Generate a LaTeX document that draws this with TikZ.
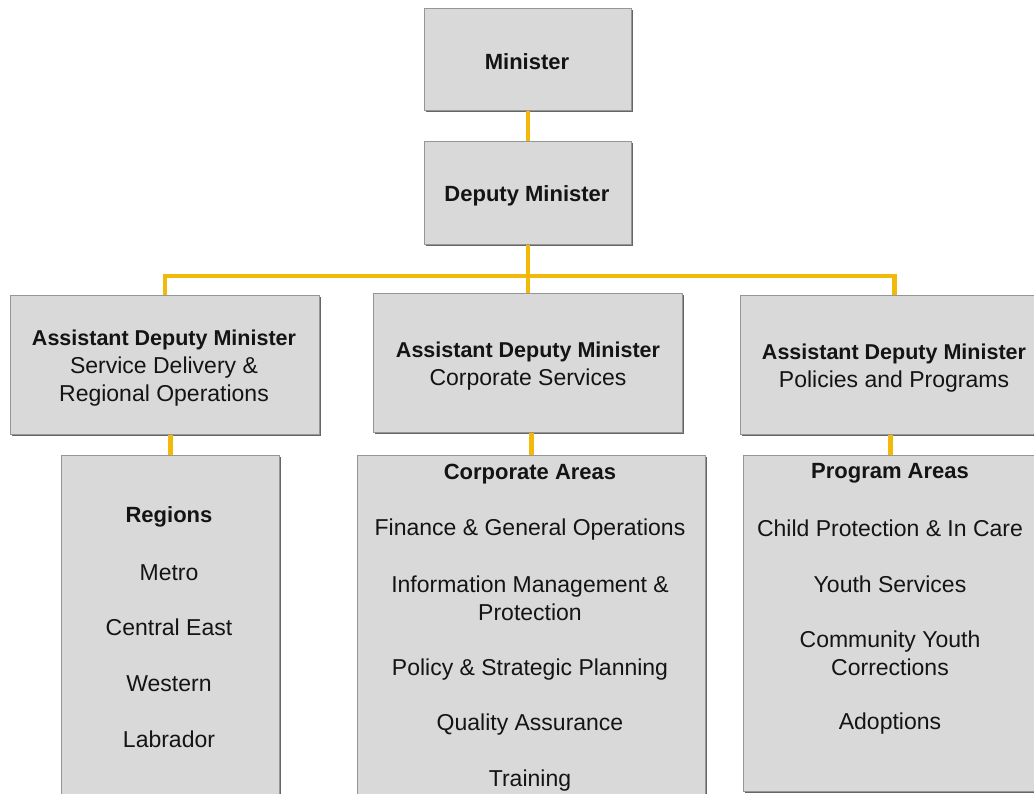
\documentclass[tikz,border=0pt]{standalone}
\usepackage{fontspec}
\setmainfont{Liberation Sans}
\usetikzlibrary{shadows}
\definecolor{boxfill}{RGB}{217,217,217}
\definecolor{boxedge}{RGB}{150,150,150}
\definecolor{gold}{RGB}{242,184,10}
\definecolor{ink}{RGB}{20,20,20}
\begin{document}
\begin{tikzpicture}[x=1pt,y=-1pt,
  box/.style={rectangle, fill=boxfill, draw=boxedge, line width=0.8pt, inner sep=0pt, anchor=north west,
    drop shadow={shadow xshift=1.2pt, shadow yshift=-1.6pt, fill=black!60, opacity=1}},
  link/.style={draw=gold, line width=4.5pt},
  bt/.style={font=\fontsize{22}{26}\selectfont\bfseries, text=ink, inner sep=0pt, align=center, yshift=-2.5pt},
  admtext/.style={font=\fontsize{21.5}{26}\selectfont\bfseries, text=ink, inner sep=0pt, align=center, yshift=-2.5pt},
  rt/.style={font=\fontsize{23}{28}\selectfont, text=ink, inner sep=0pt, align=center, yshift=-2.5pt}]
\useasboundingbox (0,0) rectangle (1034,793);
\clip (0,0) rectangle (1034,793);
% boxes
\node[box, minimum width=207pt, minimum height=102pt] (min) at (424,8) {};
\node[box, minimum width=207pt, minimum height=103pt] (dm) at (424,141) {};
\node[box, minimum width=309pt, minimum height=139pt] (adma) at (10,295) {};
\node[box, minimum width=309pt, minimum height=139pt] (admb) at (373,293) {};
\node[box, minimum width=308pt, minimum height=139pt] (admc) at (740,295) {};
\node[box, minimum width=218pt, minimum height=360pt] (reg) at (61,455) {};
\node[box, minimum width=348pt, minimum height=360pt] (corp) at (357,455) {};
\node[box, minimum width=294pt, minimum height=336pt] (prog) at (743,455) {};
% connectors
\draw[link] (min.south) -- (dm.north);
\draw[link] (dm.south) -- ++(0,31) coordinate (bus);
\draw[link] (adma.north) |- (bus) -| (admc.north);
\draw[link] (bus) -- (admb.north);
\draw[link] (reg.north) -- (reg.north |- adma.south);
\draw[link] (corp.north) -- (corp.north |- admb.south);
\draw[link] (prog.north) -- (prog.north |- admc.south);
% texts
\node[bt] (tmin) at (527,59) {Minister};
\node[bt] (tdm) at (527,193) {Deputy Minister};
\node[admtext] (ta1) at (164,337) {Assistant Deputy Minister};
\node[rt] (ta1s) at (164,379) {Service Delivery \&\\Regional Operations};
\node[admtext] (ta2) at (528,349) {Assistant Deputy Minister};
\node[rt] (ta2s) at (528,377) {Corporate Services};
\node[admtext] (ta3) at (894,351) {Assistant Deputy Minister};
\node[rt] (ta3s) at (894,379) {Policies and Programs};
% regions
\node[bt] (treg) at (169,514) {Regions};
\node[rt] (r1) at (169,570) {Metro};
\node[rt] (r2) at (169,625) {Central East};
\node[rt] (r3) at (169,681) {Western};
\node[rt] (r4) at (169,737) {Labrador};
% corporate
\node[bt] (tcorp) at (530,472) {Corporate Areas};
\node[rt] (c1) at (530,527) {Finance \& General Operations};
\node[rt] (c2) at (530,596) {Information Management \&\\Protection};
\node[rt] (c3) at (530,667) {Policy \& Strategic Planning};
\node[rt] (c4) at (530,722) {Quality Assurance};
\node[rt] (c5) at (530,778) {Training};
% programs
\node[bt] (tprog) at (890,471) {Program Areas};
\node[rt] (p1) at (890,526) {Child Protection \& In Care};
\node[rt] (p2) at (890,582) {Youth Services};
\node[rt] (p3) at (890,651) {Community Youth\\Corrections};
\node[rt] (p4) at (890,721) {Adoptions};
\end{tikzpicture}
\end{document}
